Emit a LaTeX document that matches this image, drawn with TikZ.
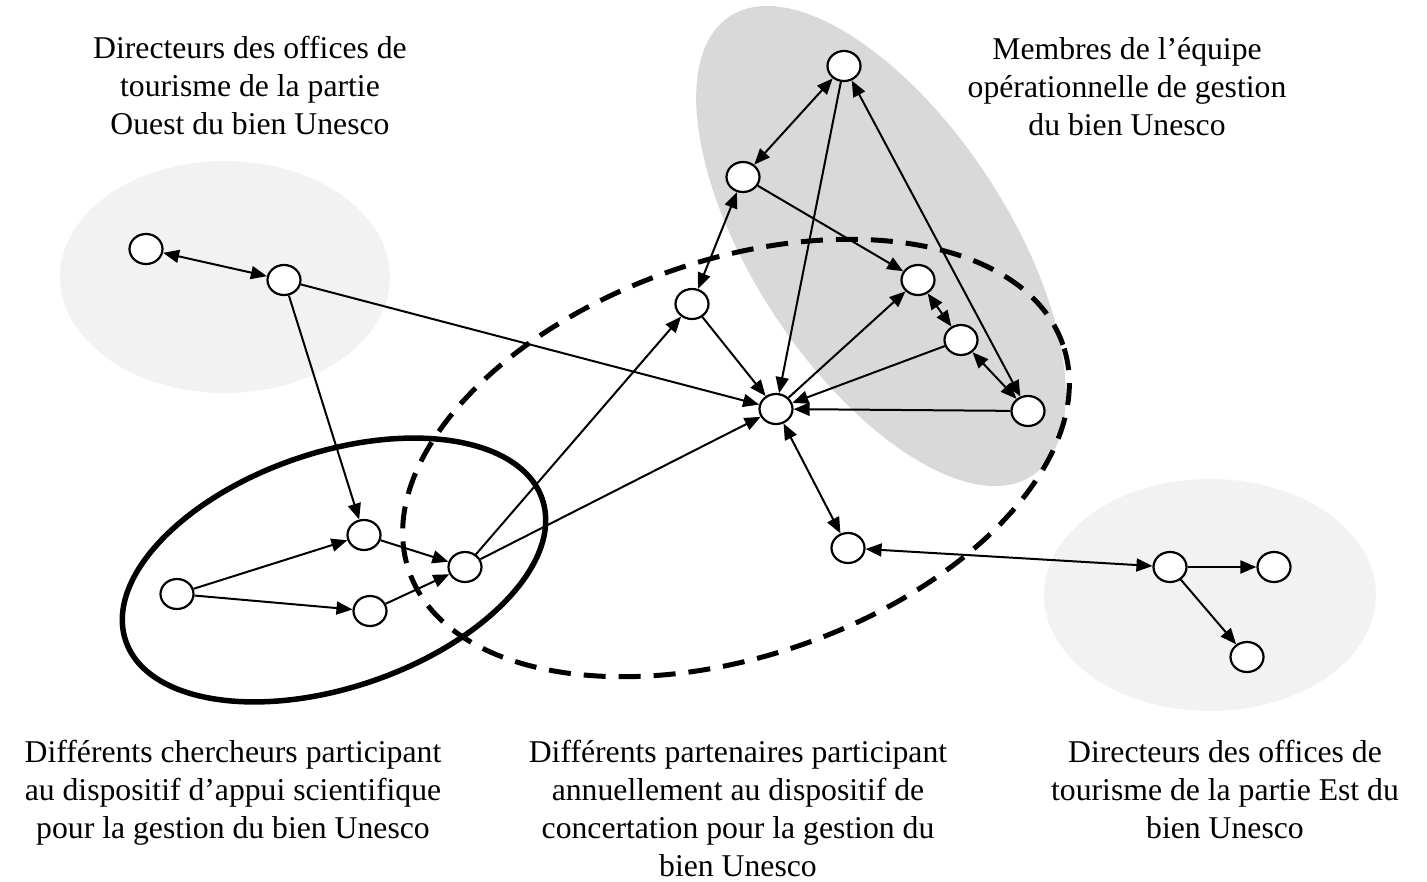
\documentclass[tikz,border=0pt]{standalone}
\usepackage{fontspec}
\setmainfont{Liberation Serif}
\usetikzlibrary{shapes.geometric,arrows.meta}
\definecolor{lightgrp}{HTML}{F2F2F2}
\definecolor{teamgrp}{HTML}{D9D9D9}
\begin{document}
\begin{tikzpicture}[x=1pt,y=-1pt,
  actor/.style={ellipse,draw,line width=2.2pt,fill=white,minimum width=33pt,minimum height=30pt,inner sep=0pt},
  tip/.tip={Triangle[length=16pt,width=13pt]},
  link/.style={line width=2pt,-tip},
  both/.style={line width=2pt,tip-tip},
  lbl/.style={align=center,anchor=north,inner sep=0pt,font=\fontsize{31.7}{38}\selectfont},
  groupline/.style={line width=5.5pt},
  dashline/.style={line width=5pt,dash pattern=on 22pt off 13pt}
]
\useasboundingbox (0,0) rectangle (1427,881);

% group areas
\fill[lightgrp] (225,277) ellipse [x radius=165pt, y radius=116pt];
\fill[lightgrp] (1210,595) ellipse [x radius=166pt, y radius=116pt];
\fill[teamgrp, rotate around={-56.6:(881,246)}] (881,246) ellipse [x radius=275pt, y radius=127pt];
\draw[groupline, rotate around={18.8:(334,570)}] (334,570) ellipse [x radius=220pt, y radius=117.5pt];
\draw[dashline, rotate around={19.1:(736,458)}] (736,458) ellipse [x radius=346pt, y radius=198pt];

% actors
\node[actor] (w1) at (146,249) {};
\node[actor] (w2) at (284,280) {};
\node[actor] (c1) at (364,535) {};
\node[actor] (c2) at (177,594) {};
\node[actor] (c3) at (370,611) {};
\node[actor] (p1) at (465,567) {};
\node[actor] (p2) at (692,304) {};
\node[actor] (ce) at (776,409) {};
\node[actor] (m1) at (844,66) {};
\node[actor] (m2) at (743,177) {};
\node[actor] (m3) at (918,280) {};
\node[actor] (m4) at (961,340) {};
\node[actor] (m5) at (1028,411) {};
\node[actor] (p3) at (848,548) {};
\node[actor] (e1) at (1170,567) {};
\node[actor] (e2) at (1274,567) {};
\node[actor] (e3) at (1247,657) {};

% links
\draw[both] (w1) -- (w2);
\draw[link] (w2) -- (c1);
\draw[link] (w2) -- (ce);
\draw[link] (c2) -- (c1);
\draw[link] (c2) -- (c3);
\draw[link] (c1) -- (p1);
\draw[link] (c3) -- (p1);
\draw[link] (p1) -- (p2);
\draw[link] (p1) -- (ce);
\draw[link] (p2) -- (ce);
\draw[both] (p2) -- (m2);
\draw[both] (m1) -- (m2);
\draw[link] (m1) -- (ce);
\draw[both] (m1) -- (m5);
\draw[link] (m2) -- (m3);
\draw[link] (ce) -- (m3);
\draw[both] (m3) -- (m4);
\draw[link] (m4) -- (ce);
\draw[both] (m4) -- (m5);
\draw[link] (m5) -- (ce);
\draw[both] (ce) -- (p3);
\draw[both] (p3) -- (e1);
\draw[link] (e1) -- (e2);
\draw[link] (e1) -- (e3);

% labels
\node[lbl] (tw) at (250,36) {Directeurs des offices de\\tourisme de la partie\\Ouest du bien Unesco};
\node[lbl] (tm) at (1127,37) {Membres de l’équipe\\opérationnelle de gestion\\du bien Unesco};
\node[lbl] (tc) at (233,740) {Différents chercheurs participant\\au dispositif d’appui scientifique\\pour la gestion du bien Unesco};
\node[lbl] (tp) at (738,740) {Différents partenaires participant\\annuellement au dispositif de\\concertation pour la gestion du\\bien Unesco};
\node[lbl] (te) at (1225,740) {Directeurs des offices de\\tourisme de la partie Est du\\bien Unesco};
\end{tikzpicture}
\end{document}
